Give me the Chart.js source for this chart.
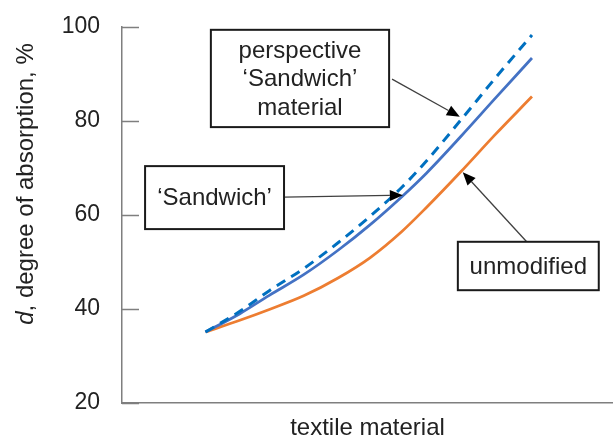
<!DOCTYPE html>
<html>
<head>
<meta charset="utf-8">
<script src="https://cdn.jsdelivr.net/npm/chart.js@4.4.1/dist/chart.umd.min.js"></script>
<style>
  html, body { margin: 0; padding: 0; background: #fff; }
  canvas { display: block; }
</style>
</head>
<body>
<canvas id="chart" width="613" height="439"></canvas>
<script>
// x positions along "textile material" (arbitrary units, axis runs 0..100)
const xs = [17, 24, 30, 37, 44, 50.5, 57, 62, 69, 76, 83.5]
const perspective = [35.1, 39.5, 43.9, 48.6, 54.1, 59.7, 65.9, 71.5, 80.2, 89.1, 98.3]
const sandwich = [35.1, 39.0, 42.9, 47.3, 52.5, 57.9, 63.9, 68.9, 76.7, 84.8, 93.4]
const unmodified = [35.1, 37.6, 39.9, 42.8, 46.6, 50.9, 56.5, 61.6, 69.2, 77.1, 85.2]
const yTicks = [20, 40, 60, 80, 100]

// callouts, in data units: box [x1, yTop, x2, yBottom], arrow from -> to
const notes = [
  { lines: ['perspective', '\u2018Sandwich\u2019', 'material'], box: [18.1, 99.4, 54.4, 78.7], from: [55.0, 88.9], to: [68.8, 80.9] },
  { lines: ['\u2018Sandwich\u2019'], box: [4.7, 70.4, 33.0, 57.0], from: [33.0, 63.8], to: [57.2, 64.2] },
  { lines: ['unmodified'], box: [68.4, 54.3, 97.1, 44.0], from: [82.7, 54.0], to: [69.4, 69.1] },
]

const FONT = '"Liberation Sans", Arial, sans-serif'
const AXIS = '#7f7f7f'
const TEXT = '#222'

const pts = (ys) => xs.map((x, i) => ({ x: x, y: ys[i] }))

const extras = {
  id: 'extras',
  afterDraw(chart) {
    const { ctx, scales } = chart
    const sx = scales.x
    const sy = scales.y
    const area = chart.chartArea
    ctx.save()

    // inward tick marks on the y axis
    ctx.strokeStyle = AXIS
    ctx.lineWidth = 1.5
    yTicks.forEach((v) => {
      const y = Math.round(sy.getPixelForValue(v)) + 0.5
      ctx.beginPath()
      ctx.moveTo(area.left, y)
      ctx.lineTo(area.left + 17, y)
      ctx.stroke()
    })

    // y axis title with italic "d"
    ctx.translate(26, 184)
    ctx.rotate(-Math.PI / 2)
    ctx.fillStyle = TEXT
    ctx.textBaseline = 'middle'
    ctx.textAlign = 'left'
    const italic = 'italic 24px ' + FONT
    const normal = '24px ' + FONT
    ctx.font = italic
    const w1 = ctx.measureText('d').width
    ctx.font = normal
    const rest = ', degree of absorption, %'
    const w2 = ctx.measureText(rest).width
    const start = -(w1 + w2) / 2
    ctx.font = italic
    ctx.fillText('d', start, 0)
    ctx.font = normal
    ctx.fillText(rest, start + w1, 0)
    ctx.setTransform(1, 0, 0, 1, 0, 0)

    // callout boxes and arrows
    notes.forEach((n) => {
      const x1 = sx.getPixelForValue(n.box[0])
      const y1 = sy.getPixelForValue(n.box[1])
      const x2 = sx.getPixelForValue(n.box[2])
      const y2 = sy.getPixelForValue(n.box[3])

      const fx = sx.getPixelForValue(n.from[0])
      const fy = sy.getPixelForValue(n.from[1])
      const tx = sx.getPixelForValue(n.to[0])
      const ty = sy.getPixelForValue(n.to[1])
      const ang = Math.atan2(ty - fy, tx - fx)
      const head = 13
      const bx = tx - head * Math.cos(ang)
      const by = ty - head * Math.sin(ang)
      ctx.strokeStyle = '#404040'
      ctx.lineWidth = 1.3
      ctx.beginPath()
      ctx.moveTo(fx, fy)
      ctx.lineTo(bx, by)
      ctx.stroke()
      ctx.fillStyle = '#000'
      ctx.beginPath()
      ctx.moveTo(tx, ty)
      ctx.lineTo(bx + 5.5 * Math.sin(ang), by - 5.5 * Math.cos(ang))
      ctx.lineTo(bx - 5.5 * Math.sin(ang), by + 5.5 * Math.cos(ang))
      ctx.closePath()
      ctx.fill()

      ctx.fillStyle = '#fff'
      ctx.fillRect(x1, y1, x2 - x1, y2 - y1)
      ctx.strokeStyle = '#1a1a1a'
      ctx.lineWidth = 2
      ctx.strokeRect(x1, y1, x2 - x1, y2 - y1)

      ctx.fillStyle = TEXT
      ctx.font = '24px ' + FONT
      ctx.textAlign = 'center'
      ctx.textBaseline = 'middle'
      const lh = 28.5
      const cx = (x1 + x2) / 2
      const cy = (y1 + y2) / 2 - ((n.lines.length - 1) * lh) / 2 + 1
      n.lines.forEach((t, i) => ctx.fillText(t, cx, cy + i * lh))
    })
    ctx.restore()
  },
}

new Chart(document.getElementById('chart'), {
  type: 'line',
  data: {
    datasets: [
      {
        label: 'perspective \u2018Sandwich\u2019 material',
        data: pts(perspective),
        borderColor: '#0070C0',
        borderWidth: 3,
        borderDash: [10, 7],
      },
      {
        label: '\u2018Sandwich\u2019',
        data: pts(sandwich),
        borderColor: '#4472C4',
        borderWidth: 2.75,
      },
      {
        label: 'unmodified',
        data: pts(unmodified),
        borderColor: '#ED7D31',
        borderWidth: 2.75,
      },
    ],
  },
  options: {
    responsive: false,
    animation: false,
    events: [],
    cubicInterpolationMode: 'monotone',
    pointRadius: 0,
    layout: { padding: { top: 27, right: 0, bottom: 0, left: 0 } },
    plugins: {
      legend: false,
      tooltip: { enabled: false },
    },
    scales: {
      x: {
        type: 'linear',
        min: 0,
        max: 100,
        grid: { display: false, drawTicks: false },
        border: { display: true, color: AXIS, width: 1.5 },
        ticks: { display: false },
        title: {
          display: true,
          text: 'textile material',
          color: TEXT,
          font: { family: FONT, size: 24, lineHeight: 0.85 },
          padding: 0,
        },
        afterFit: (s) => {
          s.height = 36
          s.paddingLeft = 0
          s.paddingRight = 0
        },
      },
      y: {
        min: 20,
        max: 100,
        afterBuildTicks: (s) => { s.ticks = yTicks.map((v) => ({ value: v })) },
        grid: { display: false, drawTicks: false },
        border: { display: true, color: AXIS, width: 1.5 },
        ticks: {
          color: TEXT,
          padding: 22,
          font: { family: FONT, size: 23 },
        },
        afterFit: (s) => {
          s.width = 122
          s.paddingTop = 0
          s.paddingBottom = 0
        },
      },
    },
  },
  plugins: [extras],
})
</script>
</body>
</html>
